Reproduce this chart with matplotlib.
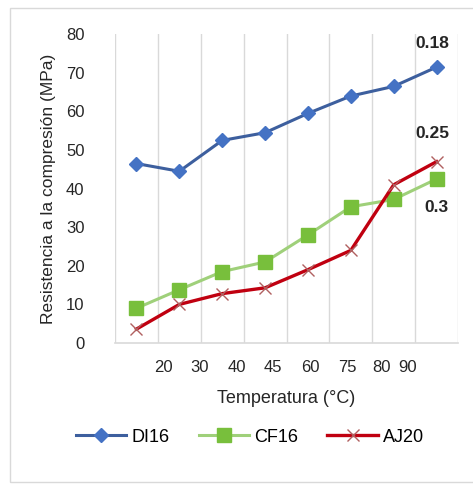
import matplotlib

matplotlib.use("Agg")
import matplotlib.pyplot as plt
from matplotlib.patches import Rectangle

plt.rcParams["font.family"] = ["Liberation Sans", "DejaVu Sans"]

# Data
temps = ["20", "30", "40", "45", "60", "75", "80", "90"]
di16 = [46.5, 44.5, 52.5, 54.5, 59.5, 64.0, 66.5, 71.5]
cf16 = [9.0, 13.8, 18.5, 21.0, 28.0, 35.3, 37.2, 42.5]
aj20 = [3.6, 10.0, 12.8, 14.3, 19.0, 24.0, 41.0, 47.0]
end_notes = ["0.18", "0.25", "0.3"]

# The x tick labels in the source sit slightly off the category centres
label_pos = [1.14, 1.98, 2.84, 3.68, 4.55, 5.41, 6.22, 6.83]
# where the end-of-series notes sit (data coords)
note_pos = [(7.39, 77.7), (7.41, 54.4), (7.5, 35.0)]

TEXT = "#262626"
GRID = "#d9d9d9"

fig = plt.figure(figsize=(4.73, 4.87), dpi=100)
fig.patches.append(Rectangle((10 / 473, 5 / 487), 1.2, 474 / 487,
                             transform=fig.transFigure, fill=False,
                             edgecolor=GRID, lw=1.0))
ax = fig.add_axes([115 / 473, 1 - 343 / 487, 343 / 473, (343 - 34.3) / 487])

x = [i + 0.5 for i in range(len(temps))]
ax.plot(x, di16, color="#3d5f9e", lw=2.2, marker="D", ms=7,
        mfc="#4472c4", mec="#4472c4", label="DI16", zorder=3)
ax.plot(x, cf16, color="#9fd07a", lw=2.2, marker="s", ms=10,
        mfc="#78bf3c", mec="#78bf3c", label="CF16", zorder=3)
ax.plot(x, aj20, color="#c00010", lw=2.4, marker="x", ms=9, mew=1.0,
        mec="#b06060", label="AJ20", zorder=4)

for text, (xt, yt) in zip(end_notes, note_pos):
    ax.text(xt, yt, text, ha="center", va="center", fontsize=12.5,
            fontweight="bold", color=TEXT)

ax.set_xlim(0, len(temps))
ax.set_ylim(0, 80)
ax.set_yticks(range(0, 81, 10))
ax.set_xticks(label_pos, temps)
ax.tick_params(axis="both", length=0, labelsize=12, colors=TEXT)
ax.tick_params(axis="x", pad=12)
ax.tick_params(axis="y", pad=22)
for xv in range(len(temps) + 1):
    ax.axvline(xv, color=GRID, lw=1.0, zorder=0)
for side in ("top", "right", "left"):
    ax.spines[side].set_visible(False)
ax.spines["bottom"].set_color(GRID)
ax.spines["bottom"].set_linewidth(1.2)

ax.set_xlabel("Temperatura (°C)", fontsize=13, color=TEXT, labelpad=11)
ax.set_ylabel("Resistencia a la compresión (MPa)", fontsize=12.5,
              color=TEXT, labelpad=7)

fig.legend(loc="center", bbox_to_anchor=(250 / 473, 1 - 437 / 487),
           ncol=3, frameon=False, fontsize=13, handlelength=2.8,
           columnspacing=1.6, handletextpad=0.3)

fig.savefig("out.png", dpi=100)
